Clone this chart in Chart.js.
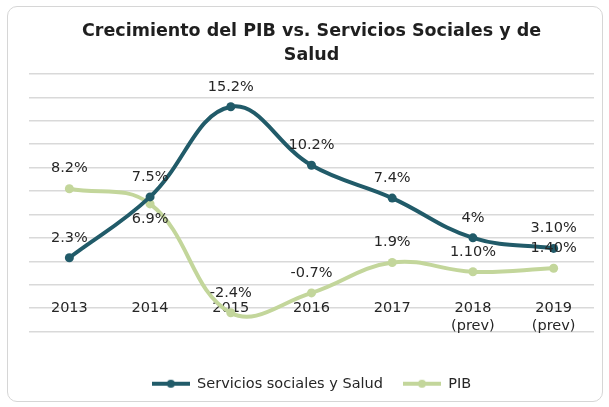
<!DOCTYPE html>
<html>
<head>
<meta charset="utf-8">
<script src="https://cdn.jsdelivr.net/npm/chart.js@4.4.0/dist/chart.umd.min.js"></script>
<style>
  html, body { margin: 0; padding: 0; background: #fff; }
  #frame { position: absolute; left: 7px; top: 6px; width: 594px; height: 394px;
           border: 1px solid #d6d6d6; border-radius: 10px; }
  #wrap { position: absolute; left: 0; top: 0; width: 609px; height: 407px; }
</style>
</head>
<body>
<div id="frame"></div>
<div id="wrap"><canvas id="chart" width="609" height="407"></canvas></div>
<script>
// data
const years = ['2013', '2014', '2015', '2016', '2017', ['2018', '(prev)'], ['2019', '(prev)']];
const serviciosSalud = [2.3, 7.5, 15.2, 10.2, 7.4, 4, 3.1];
const pib = [8.2, 6.9, -2.4, -0.7, 1.9, 1.1, 1.4];
const serviciosText = ['2.3%', '7.5%', '15.2%', '10.2%', '7.4%', '4%', '3.10%'];
const pibText = ['8.2%', '6.9%', '-2.4%', '-0.7%', '1.9%', '1.10%', '1.40%'];

const TEAL = '#215b69';
const GREEN = '#c3d69b';
const FONT = "'DejaVu Sans', sans-serif";

// where each value label sits: above or below its point
const serviciosPlace = ['up', 'up', 'up', 'up', 'up', 'up', 'up'];
const pibPlace = ['up', 'down', 'up', 'up', 'up', 'up', 'up'];

function legendSwatch(color) {
    const c = document.createElement('canvas');
    c.width = 38; c.height = 10;
    const g = c.getContext('2d');
    g.strokeStyle = color; g.lineWidth = 4;
    g.beginPath(); g.moveTo(0, 5); g.lineTo(38, 5); g.stroke();
    g.fillStyle = color;
    g.beginPath(); g.arc(19, 5, 4, 0, Math.PI * 2); g.fill();
    return c;
}
const swatches = [legendSwatch(TEAL), legendSwatch(GREEN)];

// simple value labels (no datalabels plugin available offline)
const valueLabels = {
    id: 'valueLabels',
    afterDatasetsDraw(chart) {
        const ctx = chart.ctx;
        ctx.save();
        ctx.font = '14.5px ' + FONT;
        ctx.fillStyle = '#262626';
        ctx.textAlign = 'center';
        ctx.textBaseline = 'middle';
        chart.data.datasets.forEach((ds, i) => {
            const meta = chart.getDatasetMeta(i);
            meta.data.forEach((pt, j) => {
                const dy = ds.labelPlace[j] === 'up' ? -20 : 15;
                ctx.fillText(ds.labelText[j], pt.x, pt.y + dy);
            });
        });
        ctx.restore();
    }
};

Chart.defaults.font.family = FONT;
Chart.defaults.color = '#262626';

const ctx = document.getElementById('chart').getContext('2d');
const myChart = new Chart(ctx, {
    type: 'line',
    plugins: [valueLabels],
    data: {
        labels: years,
        datasets: [
            {
                label: 'Servicios sociales y Salud',
                data: serviciosSalud,
                labelText: serviciosText,
                labelPlace: serviciosPlace,
                borderColor: TEAL,
                backgroundColor: TEAL,
                borderWidth: 4,
                pointRadius: 4.5,
                pointBorderWidth: 0,
                tension: 0.4
            },
            {
                label: 'PIB',
                data: pib,
                labelText: pibText,
                labelPlace: pibPlace,
                borderColor: GREEN,
                backgroundColor: GREEN,
                borderWidth: 4,
                pointRadius: 4.5,
                pointBorderWidth: 0,
                tension: 0.4
            }
        ]
    },
    options: {
        responsive: false,
        animation: false,
        layout: {
            padding: { left: 29, right: 15, top: 10, bottom: 6 }
        },
        scales: {
            x: {
                position: { y: 0 },
                offset: true,
                grid: { display: false, offset: true },
                border: { display: false },
                ticks: {
                    padding: 7,
                    font: { size: 14.5 },
                    maxRotation: 0,
                    autoSkip: false
                }
            },
            // empty axis only to keep room between plot and legend
            xSpace: {
                type: 'category',
                position: 'bottom',
                ticks: { display: false },
                grid: { display: false },
                border: { display: false },
                afterFit(scale) { scale.height = 25; }
            },
            y: {
                min: -4,
                max: 18,
                ticks: { stepSize: 2, display: false },
                grid: { color: '#d9d9d9', drawTicks: false, lineWidth: 1.5 },
                border: { display: false }
            }
        },
        plugins: {
            title: {
                display: true,
                text: ['Crecimiento del PIB vs. Servicios Sociales y de', 'Salud'],
                color: '#1f1f1f',
                font: { size: 17.5, weight: 'bold', lineHeight: 1.4 },
                padding: { top: 9, bottom: 6 }
            },
            legend: {
                position: 'bottom',
                labels: {
                    usePointStyle: true,
                    pointStyleWidth: 38,
                    boxHeight: 10,
                    padding: 20,
                    font: { size: 14.5 },
                    generateLabels(chart) {
                        const items = Chart.defaults.plugins.legend.labels.generateLabels(chart);
                        items.forEach((it, i) => { it.pointStyle = swatches[i]; });
                        return items;
                    }
                }
            },
            tooltip: { enabled: false }
        }
    }
});
</script>
</body>
</html>
